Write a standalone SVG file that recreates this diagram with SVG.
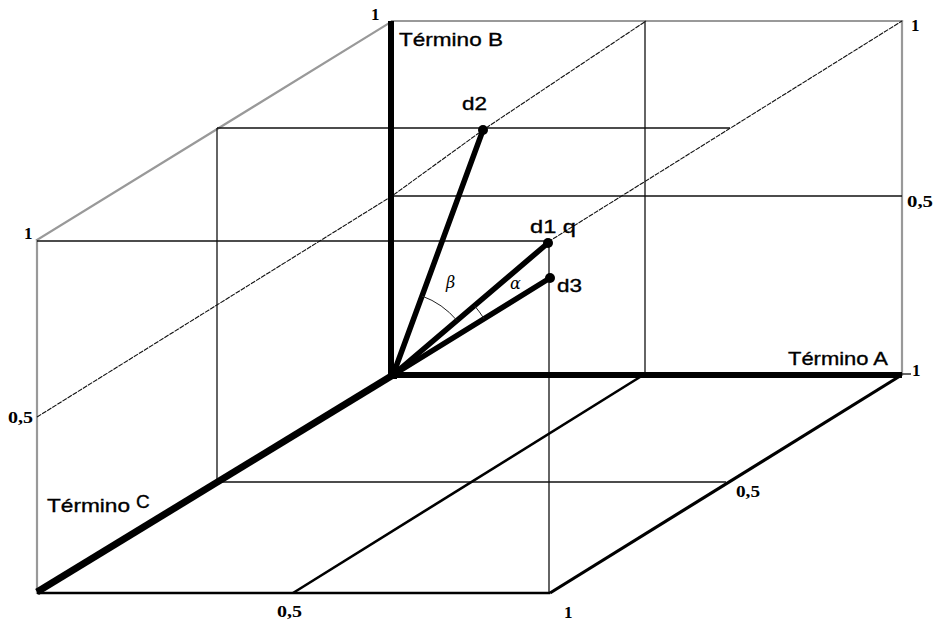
<svg xmlns="http://www.w3.org/2000/svg" width="934" height="621" viewBox="0 0 934 621">
  <style>
    .gray { stroke: #999; stroke-width: 2.2; fill: none; stroke-linecap: square; }
    .thin { stroke: #111; stroke-width: 1.3; fill: none; }
    .mid { stroke: #000; stroke-width: 2.6; fill: none; }
    .axis { stroke: #000; stroke-width: 6; fill: none; }
    .vec { stroke: #000; stroke-width: 5.5; fill: none; stroke-linecap: round; }
    .dash { stroke: #111; stroke-width: 1.1; fill: none; stroke-dasharray: 5 1; }
    .arc { stroke: #222; stroke-width: 1; fill: none; }
    .lbl { font-family: "Liberation Sans", Arial, sans-serif; font-size: 19px; fill: #000; stroke: #000; stroke-width: 0.35; }
    .num { font-family: "Liberation Serif", "Times New Roman", serif; font-weight: bold; font-size: 17px; fill: #000; }
    .greek { font-family: "DejaVu Serif", "Liberation Serif", serif; font-style: italic; font-size: 16px; fill: #000; }
    .pt { fill: #000; }
  </style>
  <rect width="934" height="621" fill="#fff"/>

  <g id="box">
    <line class="gray" x1="392" y1="21" x2="902" y2="21"/>
    <line class="gray" x1="37" y1="240" x2="391" y2="22"/>
    <line class="gray" x1="902" y1="21" x2="902" y2="375"/>
    <line class="gray" x1="37" y1="240" x2="37" y2="593"/>
    <line class="thin" x1="37" y1="241" x2="548" y2="241"/>
    <line class="thin" x1="549" y1="243" x2="549" y2="594"/>
    <line class="thin" x1="217" y1="128" x2="730" y2="128"/>
    <line class="thin" x1="217" y1="128" x2="217" y2="482"/>
    <line class="thin" x1="217" y1="482" x2="726" y2="482"/>
    <line class="thin" x1="392" y1="196" x2="902" y2="196"/>
    <line class="thin" x1="645" y1="21" x2="645" y2="375"/>
    <line class="mid" x1="37" y1="593" x2="550" y2="593"/>
    <line class="mid" x1="293" y1="593" x2="640" y2="377"/>
    <line class="mid" x1="550" y1="593" x2="900" y2="376" style="stroke-width:3.2"/>
    <line class="thin" x1="902" y1="374" x2="911" y2="374"/>
    <polyline class="dash" points="37,417 392,196 483,130 646,21"/>
    <line class="dash" x1="548" y1="242" x2="902" y2="21"/>
  </g>

  <g id="axes">
    <line class="axis" x1="391" y1="21" x2="391" y2="376"/>
    <line class="axis" x1="390" y1="375" x2="902" y2="375"/>
    <line class="axis" x1="37" y1="592" x2="393" y2="375" style="stroke-width:7"/>
  </g>

  <g id="connectors">
    <line class="vec" x1="393" y1="375" x2="483" y2="130"/>
    <line class="vec" x1="393" y1="375" x2="548" y2="243"/>
    <line class="vec" x1="393" y1="375" x2="550" y2="278"/>
    <path class="arc" d="M 422 296 A 84 84 0 0 1 457 320.5"/>
    <path class="arc" d="M 474.4 305.6 A 107 107 0 0 1 484 318.7"/>
  </g>

  <g id="origin"><rect class="pt" x="388" y="370" width="9" height="9"/></g>
  <g id="d2"><circle class="pt" cx="483" cy="130" r="5"/><text class="lbl" x="462" y="110" textLength="25" lengthAdjust="spacingAndGlyphs">d2</text></g>
  <g id="d1"><circle class="pt" cx="548" cy="243" r="5"/><text class="lbl" x="530" y="233" textLength="46" lengthAdjust="spacingAndGlyphs">d1 q</text></g>
  <g id="d3"><circle class="pt" cx="550" cy="278" r="5"/><text class="lbl" x="557" y="292" textLength="25" lengthAdjust="spacingAndGlyphs">d3</text></g>

  <g id="angles">
    <text class="greek" x="446" y="288">β</text>
    <text class="greek" x="510" y="289">α</text>
  </g>

  <g id="axis-labels">
    <text class="lbl" x="399" y="46" textLength="104" lengthAdjust="spacingAndGlyphs">Término B</text>
    <text class="lbl" x="788" y="365" textLength="100" lengthAdjust="spacingAndGlyphs">Término A</text>
    <text class="lbl" x="47" y="512" textLength="83" lengthAdjust="spacingAndGlyphs">Término</text>
    <text class="lbl" x="136" y="508">C</text>
  </g>

  <g id="ticks">
    <text class="num" x="371" y="20">1</text>
    <text class="num" x="911" y="31">1</text>
    <text class="num" x="24" y="239">1</text>
    <text class="num" x="8" y="423" textLength="25" lengthAdjust="spacingAndGlyphs">0,5</text>
    <text class="num" x="907" y="207" textLength="26" lengthAdjust="spacingAndGlyphs">0,5</text>
    <text class="num" x="912" y="376">1</text>
    <text class="num" x="736" y="497" textLength="24" lengthAdjust="spacingAndGlyphs">0,5</text>
    <text class="num" x="277" y="617" textLength="25" lengthAdjust="spacingAndGlyphs">0,5</text>
    <text class="num" x="564" y="618">1</text>
  </g>
</svg>
